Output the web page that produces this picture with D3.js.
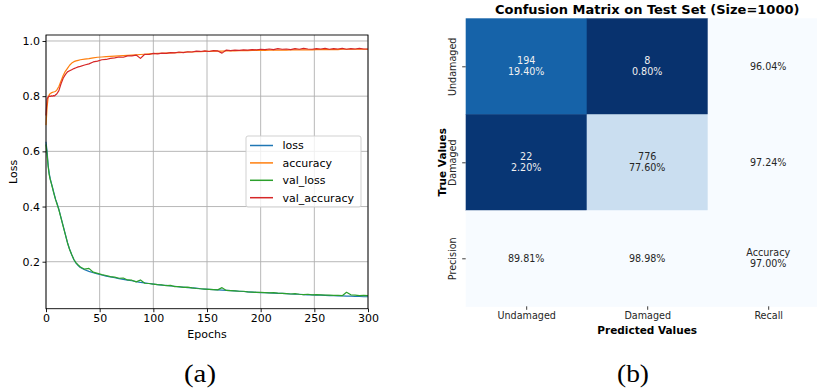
<!DOCTYPE html>
<html>
<head>
<meta charset="utf-8">
<script src="https://cdn.jsdelivr.net/npm/d3@7"></script>
<style>
  body { margin: 0; background: #fff; }
  text { font-family: "DejaVu Sans", sans-serif; }
</style>
</head>
<body>
<div id="vis"></div>
<script>
// ---------- data: training history (a) ----------
var epochs = [0,1,2,3,4,5,6,7,8,9,10,12,14,16,18,20,22,24,26,28,30,
  32,36,40,44,48,52,56,60,64,68,72,76,80,84,88,92,96,100,104,108,
  112,116,120,124,128,132,136,140,144,148,152,156,160,164,168,172,176,180,184,188,
  192,196,200,204,208,212,216,220,224,228,232,236,240,244,248,252,256,260,264,268,
  272,276,280,284,288,292,296,300];

var loss = [0.635,0.600,0.550,0.520,0.500,0.485,0.470,0.455,0.440,0.425,0.415,
  0.390,0.360,0.330,0.300,0.270,0.245,0.225,0.207,0.195,0.186,
  0.179,0.171,0.165,0.160,0.156,0.152,0.148,0.145,0.142,0.139,0.136,0.133,0.131,0.128,0.125,0.123,0.121,0.119,0.117,0.115,
  0.114,0.112,0.111,0.109,0.108,0.106,0.105,0.104,0.102,0.101,0.100,0.099,0.098,0.097,0.096,0.095,0.094,0.093,0.092,0.091,
  0.090,0.089,0.088,0.088,0.087,0.086,0.085,0.085,0.084,0.083,0.082,0.082,0.081,0.080,0.080,0.079,0.079,0.078,0.077,0.077,
  0.076,0.076,0.075,0.075,0.074,0.074,0.073,0.073];

var accuracy = [0.695,0.760,0.795,0.805,0.810,0.812,0.814,0.815,0.816,0.818,0.822,
  0.835,0.855,0.875,0.890,0.901,0.912,0.920,0.925,0.928,0.930,
  0.932,0.934,0.936,0.939,0.941,0.942,0.943,0.944,0.945,0.946,0.947,0.948,0.949,0.950,0.951,0.952,0.953,0.954,0.955,0.955,
  0.956,0.957,0.958,0.958,0.959,0.960,0.960,0.961,0.961,0.962,0.962,0.963,0.963,0.963,0.964,0.964,0.964,0.965,0.965,0.965,
  0.966,0.966,0.966,0.966,0.967,0.967,0.967,0.967,0.967,0.968,0.968,0.968,0.968,0.968,0.968,0.969,0.969,0.969,0.969,0.969,
  0.969,0.970,0.970,0.970,0.970,0.970,0.970,0.970];

var val_loss = [0.625,0.590,0.545,0.515,0.497,0.483,0.468,0.452,0.438,0.424,0.412,
  0.388,0.358,0.328,0.298,0.268,0.244,0.225,0.208,0.196,0.188,
  0.181,0.173,0.176,0.162,0.158,0.153,0.150,0.146,0.144,0.140,0.141,0.134,0.133,0.127,0.134,0.122,0.121,0.119,0.117,0.116,
  0.113,0.114,0.110,0.110,0.107,0.108,0.105,0.103,0.102,0.101,0.100,0.099,0.098,0.106,0.096,0.095,0.094,0.093,0.093,0.091,
  0.090,0.089,0.089,0.088,0.087,0.088,0.086,0.085,0.084,0.083,0.084,0.082,0.081,0.082,0.080,0.081,0.080,0.079,0.079,0.078,
  0.078,0.077,0.089,0.080,0.079,0.077,0.078,0.077];

var val_accuracy = [0.730,0.790,0.797,0.800,0.799,0.801,0.800,0.802,0.801,0.805,0.808,
  0.820,0.845,0.865,0.878,0.888,0.892,0.896,0.900,0.903,0.906,
  0.908,0.913,0.917,0.924,0.927,0.932,0.933,0.937,0.939,0.942,0.941,0.946,0.946,0.949,0.937,0.952,0.951,0.955,0.953,0.956,
  0.955,0.958,0.957,0.960,0.958,0.961,0.960,0.963,0.962,0.964,0.962,0.965,0.964,0.956,0.967,0.965,0.967,0.966,0.968,0.967,
  0.969,0.968,0.970,0.969,0.971,0.969,0.972,0.970,0.971,0.969,0.972,0.970,0.973,0.971,0.970,0.972,0.971,0.973,0.970,0.972,
  0.971,0.973,0.970,0.972,0.971,0.973,0.971,0.971];

var seriesNames = ["loss", "accuracy", "val_loss", "val_accuracy"];
var xTicks = [0, 50, 100, 150, 200, 250, 300];
var yTicks = [0.2, 0.4, 0.6, 0.8, 1.0];

// ---------- data: confusion matrix (b) ----------
var testSize = 1000;
var classes = ["Undamaged", "Damaged"];
var counts = [[194, 8], [22, 776]];
var recall = [96.04, 97.24];
var precision = [89.81, 98.98];
var overallAccuracy = 97.00;

var width = 817, height = 392;

var svg = d3.select("#vis")
    .append("svg")
    .attr("width", width)
    .attr("height", height)
    .style("display", "block");

svg.append("rect").attr("width", width).attr("height", height).attr("fill", "#fff");

// ================= (a) training curves =================
var plot = { left: 46, right: 368, top: 35, bottom: 308.7 };

var xscale = d3.scaleLinear().domain([0, 300]).range([plot.left, plot.right]);
var yscale = d3.scaleLinear().domain([0.0297, 1.0217]).range([plot.bottom, plot.top]);

var colors = d3.scaleOrdinal().domain(seriesNames)
    .range(["#1f77b4", "#ff7f0e", "#2ca02c", "#d62728"]);

var a = svg.append("g");

// grid
a.append("g").selectAll("line").data(xTicks).enter().append("line")
    .attr("x1", function (d) { return xscale(d); })
    .attr("x2", function (d) { return xscale(d); })
    .attr("y1", plot.top).attr("y2", plot.bottom)
    .attr("stroke", "#b0b0b0").attr("stroke-width", 0.9);
a.append("g").selectAll("line").data(yTicks).enter().append("line")
    .attr("y1", function (d) { return yscale(d); })
    .attr("y2", function (d) { return yscale(d); })
    .attr("x1", plot.left).attr("x2", plot.right)
    .attr("stroke", "#b0b0b0").attr("stroke-width", 0.9);

// lines
var series = {
    loss: loss,
    accuracy: accuracy,
    val_loss: val_loss,
    val_accuracy: val_accuracy
};

var line = d3.line()
    .x(function (d) { return xscale(d[0]); })
    .y(function (d) { return yscale(d[1]); });

seriesNames.forEach(function (name) {
    var pts = epochs.map(function (e, i) { return [e, series[name][i]]; });
    a.append("path")
        .datum(pts)
        .attr("fill", "none")
        .attr("stroke", colors(name))
        .attr("stroke-width", 1.2)
        .attr("stroke-linejoin", "round")
        .attr("d", line);
});

// spines
a.append("rect")
    .attr("x", plot.left).attr("y", plot.top)
    .attr("width", plot.right - plot.left).attr("height", plot.bottom - plot.top)
    .attr("fill", "none").attr("stroke", "#000").attr("stroke-width", 0.9);

// axes
var xaxis = d3.axisBottom(xscale).tickValues(xTicks).tickSize(3.5).tickPadding(2).tickFormat(d3.format("d"));
var yaxis = d3.axisLeft(yscale).tickValues(yTicks).tickSize(3.5).tickPadding(2.5).tickFormat(d3.format(".1f"));

var gx = a.append("g").attr("transform", "translate(0," + plot.bottom + ")").call(xaxis);
var gy = a.append("g").attr("transform", "translate(" + plot.left + ",0)").call(yaxis);
[gx, gy].forEach(function (g) {
    g.select(".domain").remove();
    g.selectAll("text").attr("font-family", "DejaVu Sans").attr("font-size", 11).attr("fill", "#000");
    g.selectAll("line").attr("stroke", "#000").attr("stroke-width", 0.9);
});

a.append("text")
    .attr("x", (plot.left + plot.right) / 2).attr("y", 338)
    .attr("text-anchor", "middle").attr("font-size", 11)
    .text("Epochs");
a.append("text")
    .attr("transform", "translate(17," + ((plot.top + plot.bottom) / 2) + ") rotate(-90)")
    .attr("text-anchor", "middle").attr("font-size", 11)
    .text("Loss");

// legend
var legend = a.append("g").attr("transform", "translate(246,136)");
legend.append("rect")
    .attr("width", 115).attr("height", 71).attr("rx", 2)
    .attr("fill", "#fff").attr("fill-opacity", 0.8)
    .attr("stroke", "#cccccc").attr("stroke-width", 0.9);
var items = legend.selectAll("g.item").data(seriesNames).enter().append("g")
    .attr("class", "item")
    .attr("transform", function (d, i) { return "translate(0," + (9.5 + i * 17.4) + ")"; });
items.append("line")
    .attr("x1", 4).attr("x2", 27)
    .attr("stroke", function (d) { return colors(d); })
    .attr("stroke-width", 1.5);
items.append("text")
    .attr("x", 36.5).attr("dy", "0.35em")
    .attr("font-size", 11)
    .text(function (d) { return d; });

// ================= (b) confusion matrix =================
var cm = { left: 465.7, top: 18.3, cellW: 121, cellH: 96 };
var colLabels = classes.concat(["Recall"]);
var rowLabels = classes.concat(["Precision"]);

var xband = d3.scaleBand().domain(d3.range(3)).range([cm.left, cm.left + 3 * cm.cellW]);
var yband = d3.scaleBand().domain(d3.range(3)).range([cm.top, cm.top + 3 * cm.cellH]);

// reversed Blues over the test set size; summary cells take the full size
var color = d3.scaleSequential(function (t) { return d3.interpolateBlues(1 - t); })
    .domain([0, testSize]);

var pct = d3.format(".2f");
var cells = [];
for (var r = 0; r < 3; r++) {
    for (var c = 0; c < 3; c++) {
        var v, lines;
        if (r < 2 && c < 2) {
            v = counts[r][c];
            lines = [String(v), pct(v / testSize * 100) + "%"];
        } else if (r < 2) {
            v = testSize;
            lines = [pct(recall[r]) + "%"];
        } else if (c < 2) {
            v = testSize;
            lines = [pct(precision[c]) + "%"];
        } else {
            v = testSize;
            lines = ["Accuracy", pct(overallAccuracy) + "%"];
        }
        cells.push({ r: r, c: c, v: v, lines: lines });
    }
}

var b = svg.append("g");

b.selectAll("rect.cell").data(cells).enter().append("rect")
    .attr("class", "cell")
    .attr("x", function (d) { return xband(d.c); })
    .attr("y", function (d) { return yband(d.r); })
    .attr("width", xband.bandwidth() + 0.5)
    .attr("height", yband.bandwidth() + 0.5)
    .attr("fill", function (d) { return color(d.v); });

var cellText = b.selectAll("text.cell").data(cells).enter().append("text")
    .attr("class", "cell")
    .attr("text-anchor", "middle")
    .attr("font-size", 9.6)
    .attr("fill", function (d) {
        return d3.hsl(color(d.v)).l < 0.5 ? "#f0f0f0" : "#262626";
    });
cellText.each(function (d) {
    var t = d3.select(this);
    var cx = xband(d.c) + xband.bandwidth() / 2;
    var cy = yband(d.r) + yband.bandwidth() / 2;
    var n = d.lines.length;
    d.lines.forEach(function (s, i) {
        t.append("tspan")
            .attr("x", cx)
            .attr("y", cy + (i - (n - 1) / 2) * 11)
            .attr("dy", "0.35em")
            .text(s);
    });
});

// ticks and labels
var bx = d3.axisBottom(d3.scalePoint().domain(colLabels).range([xband(0) + xband.bandwidth() / 2, xband(2) + xband.bandwidth() / 2]))
    .tickSize(3.5).tickPadding(2.5);
var by = d3.axisLeft(d3.scalePoint().domain(rowLabels).range([yband(0) + yband.bandwidth() / 2, yband(2) + yband.bandwidth() / 2]))
    .tickSize(3.5).tickPadding(2.5);

var gbx = b.append("g").attr("transform", "translate(0," + (cm.top + 3 * cm.cellH) + ")").call(bx);
var gby = b.append("g").attr("transform", "translate(" + cm.left + ",0)").call(by);
[gbx, gby].forEach(function (g) {
    g.select(".domain").remove();
    g.selectAll("line").attr("stroke", "#262626").attr("stroke-width", 0.9);
    g.selectAll("text").attr("font-family", "DejaVu Sans").attr("font-size", 9.6).attr("fill", "#262626");
});
gby.selectAll(".tick text")
    .attr("transform", "rotate(-90)")
    .attr("x", 0).attr("y", -10)
    .attr("dy", "0")
    .attr("text-anchor", "middle");

b.append("text")
    .attr("x", xband(1) + xband.bandwidth() / 2).attr("y", 334)
    .attr("text-anchor", "middle")
    .attr("font-size", 10.5).attr("font-weight", "bold")
    .text("Predicted Values");
b.append("text")
    .attr("transform", "translate(445.5," + (yband(1) + yband.bandwidth() / 2) + ") rotate(-90)")
    .attr("text-anchor", "middle")
    .attr("font-size", 10.5).attr("font-weight", "bold")
    .text("True Values");
b.append("text")
    .attr("x", xband(1) + xband.bandwidth() / 2).attr("y", 13.5)
    .attr("text-anchor", "middle")
    .attr("font-size", 13).attr("font-weight", "bold")
    .text("Confusion Matrix on Test Set (Size=" + testSize + ")");

// captions
svg.append("text")
    .attr("x", 200).attr("y", 382)
    .attr("text-anchor", "middle")
    .style("font-family", "'Liberation Serif', serif")
    .attr("font-size", 26)
    .attr("textLength", 32)
    .attr("lengthAdjust", "spacingAndGlyphs")
    .text("(a)");
svg.append("text")
    .attr("x", 633).attr("y", 382)
    .attr("text-anchor", "middle")
    .style("font-family", "'Liberation Serif', serif")
    .attr("font-size", 26)
    .attr("textLength", 32)
    .attr("lengthAdjust", "spacingAndGlyphs")
    .text("(b)");
</script>
</body>
</html>
